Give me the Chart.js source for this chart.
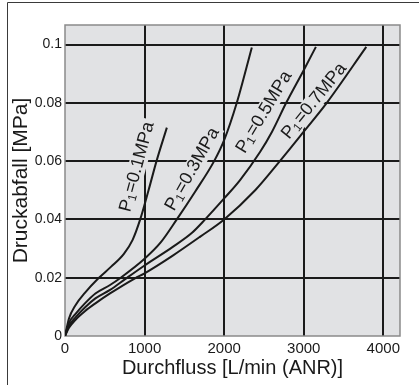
<!DOCTYPE html>
<html><head><meta charset="utf-8">
<script src="https://cdn.jsdelivr.net/npm/chart.js@4"></script>
<style>html,body{margin:0;padding:0;background:#fff}</style>
</head><body>
<canvas id="c" width="419" height="385" style="width:419px;height:385px;display:block"></canvas>
<script>
// ---- data ----
const flowP01 = [0, 50, 130, 250, 420, 580, 740, 850, 945, 1050, 1150, 1280];
const dropP01 = [0, 0.0060, 0.0105, 0.0148, 0.0198, 0.0238, 0.0282, 0.0330, 0.0400, 0.0500, 0.0600, 0.0715];

const flowP03 = [0, 50, 130, 250, 382, 566, 700, 1000, 1200, 1405, 1635, 1874, 2000, 2159, 2348];
const dropP03 = [0, 0.0045, 0.0075, 0.0112, 0.0146, 0.0175, 0.0200, 0.0265, 0.0320, 0.0400, 0.0495, 0.0600, 0.0672, 0.0800, 0.0990];

const flowP05 = [0, 50, 130, 250, 382, 566, 760, 1000, 1350, 1600, 1761, 2000, 2200, 2453, 2600, 2780, 3000, 3153];
const dropP05 = [0, 0.0035, 0.0063, 0.0098, 0.0129, 0.0158, 0.0196, 0.0242, 0.0305, 0.0355, 0.0400, 0.0472, 0.0535, 0.0632, 0.0700, 0.0800, 0.0912, 0.0992];

const flowP07 = [0, 50, 130, 250, 382, 566, 880, 1000, 1350, 1700, 2000, 2390, 2700, 3000, 3290, 3786];
const dropP07 = [0, 0.0028, 0.0055, 0.0085, 0.0112, 0.0146, 0.0198, 0.0215, 0.0275, 0.0341, 0.0400, 0.0500, 0.0600, 0.0701, 0.0800, 0.0992];

const seriesNames = ['0.1', '0.3', '0.5', '0.7'];
const xTickValues = [0, 1000, 2000, 3000, 4000];
const yTickValues = [0, 0.02, 0.04, 0.06, 0.08, 0.1];
const yTickLabels = ['0', '0.02', '0.04', '0.06', '0.08', '0.1'];
const xTitle = 'Durchfluss [L/min (ANR)]';
const yTitle = 'Druckabfall [MPa]';

// label anchors (data coordinates) and angles
const labelFlow = [906, 1600, 2503, 3132];
const labelDrop = [0.0580, 0.0572, 0.0768, 0.0806];
const labelAngle = [-75, -60.5, -59, -51];

// ---- build ----
const FONT = '"Liberation Sans", Arial, Helvetica, sans-serif';
const INK = '#1a1a1a';
const PLOTBG = '#e1e2e4';
function pts(xs, ys){ return xs.map((x,i)=>({x:x, y:ys[i]})); }
const allFlows = [flowP01, flowP03, flowP05, flowP07];
const allDrops = [dropP01, dropP03, dropP05, dropP07];

const datasets = allFlows.map((f,i)=>({
  label: 'P1=' + seriesNames[i] + 'MPa',
  data: pts(f, allDrops[i]),
  borderColor: INK,
  borderWidth: 2,
  pointRadius: 0,
  fill: false,
  showLine: true,
  cubicInterpolationMode: 'monotone'
}));

const decor = {
  id: 'decor',
  beforeDraw(chart){
    const c = chart.ctx, a = chart.chartArea;
    c.save();
    c.fillStyle = '#fff';
    c.fillRect(0,0,chart.width,chart.height);
    c.fillStyle = PLOTBG;
    c.fillRect(a.left, a.top, a.right-a.left, a.bottom-a.top);
    c.strokeStyle = '#3a3a3a';
    c.lineWidth = 1;
    c.beginPath();
    c.moveTo(7.5, chart.height);
    c.lineTo(7.5, 2.5);
    c.lineTo(chart.width, 2.5);
    c.stroke();
    c.restore();
  },
  beforeDatasetsDraw(chart){
    const c = chart.ctx, a = chart.chartArea;
    const xs = chart.scales.x, ys = chart.scales.y;
    c.save();
    c.strokeStyle = '#8a8a8a';
    c.lineWidth = 1.5;
    c.strokeRect(a.left, a.top, a.right-a.left, a.bottom-a.top);
    for (let i=0;i<seriesNames.length;i++){
      const px = xs.getPixelForValue(labelFlow[i]);
      const py = ys.getPixelForValue(labelDrop[i]);
      const big = '18px ' + FONT, small = '12px ' + FONT;
      c.font = big; const wP = c.measureText('P').width;
      c.font = small; const w1 = c.measureText('1').width;
      c.font = big; const rest = '=' + seriesNames[i] + 'MPa'; const wR = c.measureText(rest).width;
      const W = wP + w1 + 1 + wR;
      c.save();
      c.translate(px, py);
      c.rotate(labelAngle[i]*Math.PI/180);
      c.fillStyle = PLOTBG;
      c.fillRect(-W/2-3, -9, W+6, 18);
      c.fillStyle = INK;
      c.textBaseline = 'middle';
      c.textAlign = 'left';
      c.font = big; c.fillText('P', -W/2, 0);
      c.font = small; c.fillText('1', -W/2 + wP, 4);
      c.font = big; c.fillText(rest, -W/2 + wP + w1 + 1, 0);
      c.restore();
    }
    c.restore();
  }
};

new Chart(document.getElementById('c'), {
  type: 'scatter',
  data: { datasets },
  options: {
    responsive: false,
    animation: false,
    devicePixelRatio: 1,
    layout: { padding: { left: 0, right: 19, top: 25, bottom: 0 } },
    plugins: { legend: { display: false }, tooltip: { enabled: false } },
    scales: {
      x: {
        type: 'linear', min: 0, max: 4210,
        afterFit: s => { s.height = 49; },
        afterBuildTicks: s => { s.ticks = xTickValues.map(v=>({value:v})); },
        ticks: { color: INK, font: { size: 15, family: FONT }, padding: 4, maxRotation: 0, autoSkip: false,
                 callback: v => String(v) },
        grid: { color: c => c.tick && c.tick.value === 0 ? 'rgba(0,0,0,0)' : INK, lineWidth: 2, drawTicks: false },
        border: { display: false },
        title: { display: true, text: xTitle, color: INK, font: { size: 20, family: FONT }, padding: { top: 0, bottom: 5 } }
      },
      y: {
        type: 'linear', min: 0, max: 0.1067,
        afterFit: s => { s.width = 65; },
        afterBuildTicks: s => { s.ticks = yTickValues.map(v=>({value:v})); },
        ticks: { color: INK, font: { size: 14, family: FONT }, padding: 3, autoSkip: false,
                 callback: (v, i) => yTickLabels[i] },
        grid: { color: c => c.tick && c.tick.value === 0 ? 'rgba(0,0,0,0)' : INK, lineWidth: 2, drawTicks: false },
        border: { display: false },
        title: { display: true, text: yTitle, color: INK, font: { size: 21, family: FONT }, padding: { top: 9, bottom: 0 } }
      }
    }
  },
  plugins: [decor]
});
</script>
</body></html>
